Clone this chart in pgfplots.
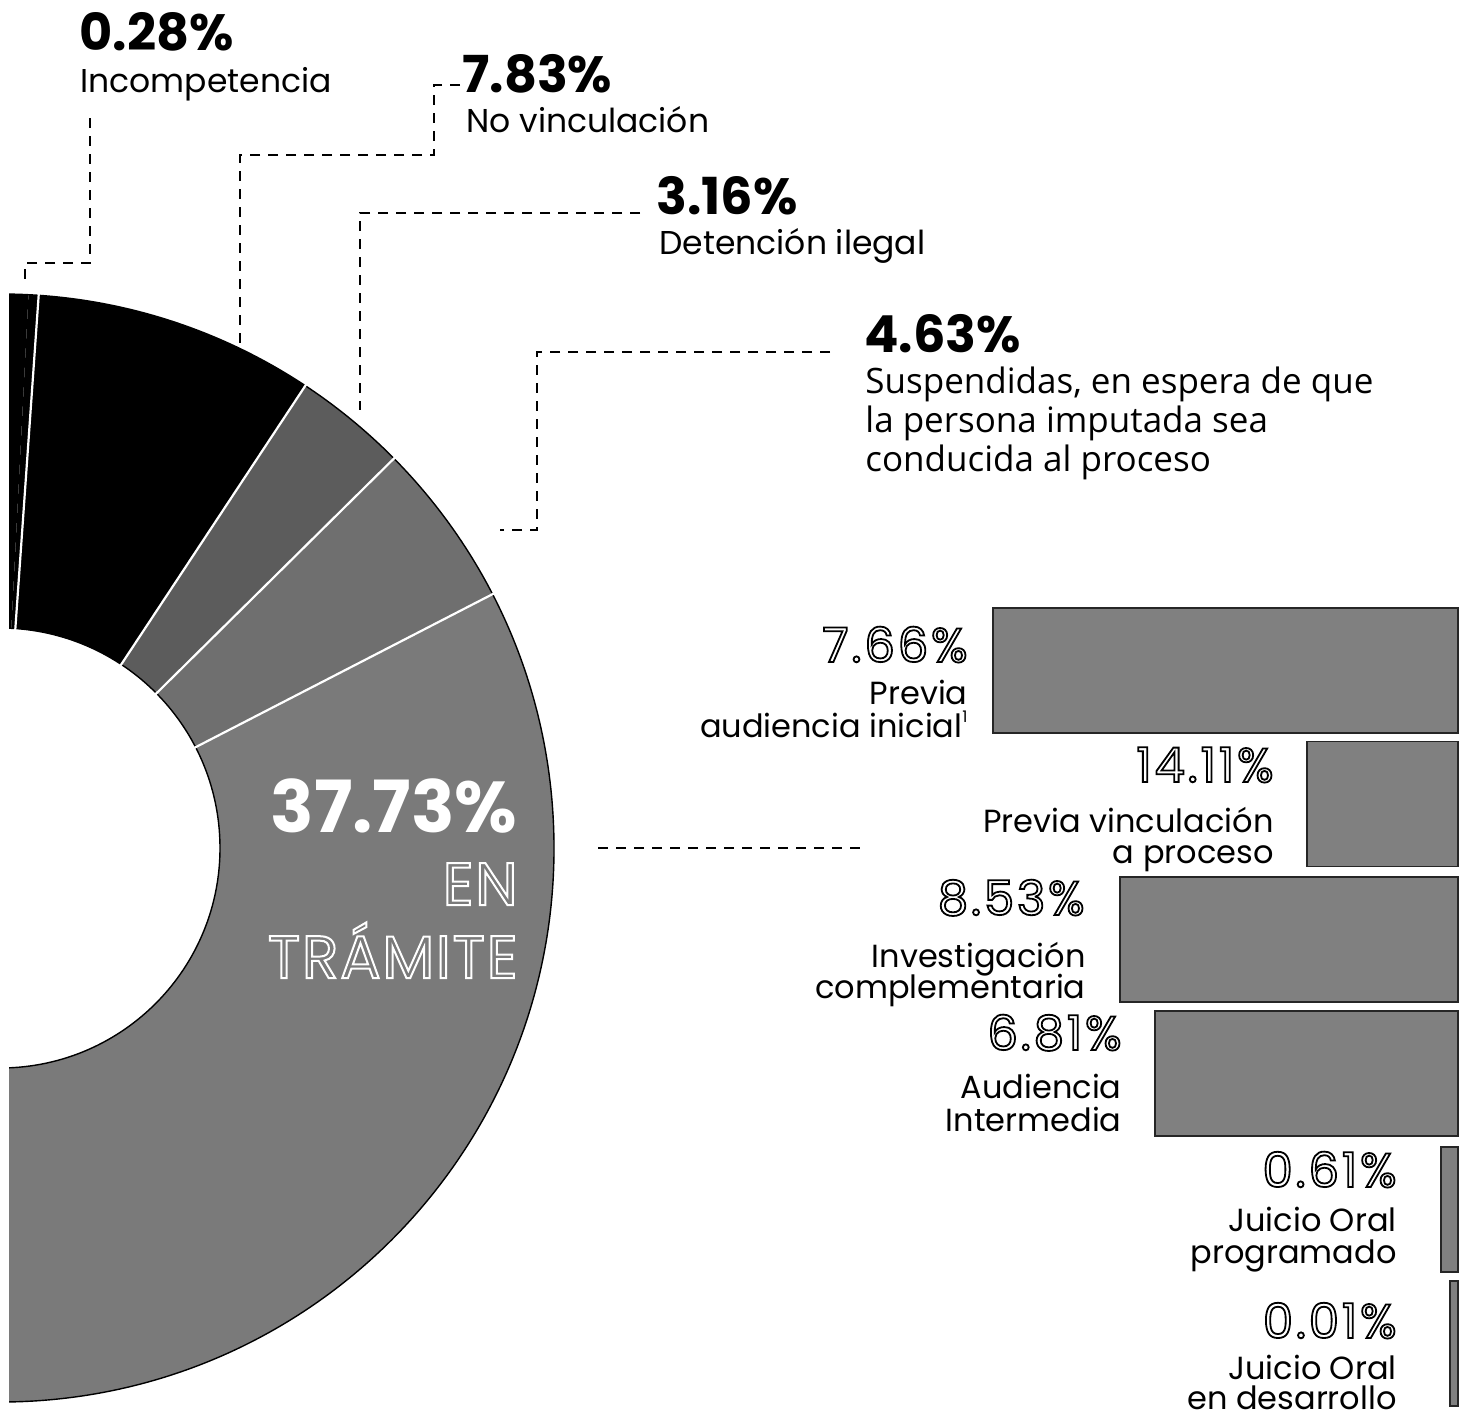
\documentclass[border=0pt]{standalone}
\usepackage{pgfplots}
\pgfplotsset{compat=1.18}
\usepackage{fontspec}
\setmainfont{Poppins}
\newfontfamily\opensans{Open Sans}
\newfontfamily\popnum[Numbers=Monospaced,LetterSpace=6]{Poppins}
\newfontfamily\popwide[LetterSpace=3]{Poppins}
\newcommand\hollow[2]{\special{pdf:literal direct #1 w 1 Tr}#2\special{pdf:literal direct 0 Tr}}
\definecolor{segA}{HTML}{5C5C5C}
\definecolor{segB}{HTML}{6F6F6F}
\definecolor{segC}{HTML}{7A7A7A}
\definecolor{barfill}{HTML}{808080}
% donut data (percent shares)
\def\vA{0.28}\def\vB{7.83}\def\vC{3.16}\def\vD{4.63}\def\vE{37.73}
\def\degper{3.76}
\pgfmathsetmacro\tA{87.05}
\pgfmathsetmacro\tB{\tA-\vA*\degper}
\pgfmathsetmacro\tC{\tB-\vB*\degper}
\pgfmathsetmacro\tD{\tC-\vC*\degper}
\pgfmathsetmacro\tE{\tD-\vD*\degper}
\pgfmathsetmacro\tF{\tE-\vE*\degper}
\newcommand\seg[3]{%
  \fill[#3] ([shift={(#1:277pt)}]axis cs:0,848) arc[start angle=#1,end angle=#2,radius=277pt]
     -- ([shift={(#2:110pt)}]axis cs:0,848) arc[start angle=#2,end angle=#1,radius=110pt] -- cycle;}
\newcommand\sep[1]{\draw[white,line width=1.1pt] ([shift={(#1:109pt)}]axis cs:0,848) -- ([shift={(#1:278pt)}]axis cs:0,848);}
\pgfplotsset{pix/.style={at={(0,0)},anchor=south west,width=730pt,height=710.5pt,scale only axis,hide axis,clip=false,xmin=0,xmax=1460,ymin=0,ymax=1421,y dir=reverse}}
\tikzset{
  leader/.style={black,line width=1pt,dash pattern=on 5pt off 4pt},
  pct/.style={font=\fontsize{25.5}{29}\selectfont\bfseries,anchor=base west,inner sep=0pt},
  lbl/.style={font=\fontsize{16.5}{20}\selectfont,anchor=base west,inner sep=0pt},
  bpct/.style={font=\popnum\fontsize{24}{28}\selectfont,anchor=base east,inner sep=0pt,text=black},
  blbl/.style={font=\fontsize{16}{19}\selectfont,anchor=base east,inner sep=0pt},
}
\begin{document}
\begin{tikzpicture}
\begin{axis}[pix]
\begin{scope}
\clip (axis cs:9,0) rectangle (axis cs:1460,1421);
\seg{92}{\tA}{black}
\seg{\tA}{\tB}{black}
\seg{\tB}{\tC}{black}
\seg{\tC}{\tD}{segA}
\seg{\tD}{\tE}{segB}
\seg{\tE}{\tF}{segC}
\draw[black,line width=0.7pt] ([shift={(92:277pt)}]axis cs:0,848) arc[start angle=92,end angle=\tF,radius=277pt];
\draw[black,line width=0.7pt] ([shift={(92:110pt)}]axis cs:0,848) arc[start angle=92,end angle=\tF,radius=110pt];
\sep{\tB}\sep{\tC}\sep{\tD}\sep{\tE}
\end{scope}
% leader lines
\draw[leader] (axis cs:460,85) -- (axis cs:434,85) -- (axis cs:434,155) -- (axis cs:240,155) -- (axis cs:240,348);
\draw[leader] (axis cs:90,118) -- (axis cs:90,263) -- (axis cs:25,263) -- (axis cs:25,286);
\draw[leader] (axis cs:640,213) -- (axis cs:360,213) -- (axis cs:360,410);
\draw[leader] (axis cs:830,352) -- (axis cs:537,352) -- (axis cs:537,530) -- (axis cs:500,530);
\draw[leader] (axis cs:598,848) -- (axis cs:860,848);
% top labels
\node[pct] at (axis cs:79,50) {0.28\%};
\node[lbl] at (axis cs:80,92) {Incompetencia};
\node[pct] at (axis cs:462,92) {7.83\%};
\node[lbl] at (axis cs:466,132) {No vinculación};
\node[pct] at (axis cs:656,214) {3.16\%};
\node[lbl] at (axis cs:659,254) {Detención ilegal};
\node[pct] at (axis cs:864,352) {4.63\%};
\node[lbl,font=\opensans\fontsize{17.5}{20}\selectfont] at (axis cs:865,393) {Suspendidas, en espera de que};
\node[lbl,font=\opensans\fontsize{17.5}{20}\selectfont] at (axis cs:865,432) {la persona imputada sea};
\node[lbl,font=\opensans\fontsize{17.5}{20}\selectfont] at (axis cs:865,471) {conducida al proceso};
% donut centre labels
\node[anchor=base east,inner sep=0pt,text=white,font=\fontsize{36}{42}\selectfont\bfseries] at (axis cs:518,832) {37.73\%};
\node[anchor=base east,inner sep=0pt,text=white,font=\popwide\fontsize{30}{34}\selectfont] at (axis cs:518,905) {\hollow{1.0}{EN}};
\node[anchor=base east,inner sep=0pt,text=white,font=\popwide\fontsize{30}{34}\selectfont] at (axis cs:518,978) {\hollow{1.0}{TRÁMITE}};
% bar labels
\node[bpct] at (axis cs:968,662) {\hollow{0.9}{7.66\%}};
\node[blbl] at (axis cs:968,704) {Previa};
\node[blbl] at (axis cs:968,737) {audiencia inicial\raisebox{0.45em}{\fontsize{8}{8}\selectfont 1}};
\node[bpct] at (axis cs:1274,782) {\hollow{0.9}{14.11\%}};
\node[blbl] at (axis cs:1274,832) {Previa vinculación};
\node[blbl] at (axis cs:1274,863) {a proceso};
\node[bpct] at (axis cs:1085,915) {\hollow{0.9}{8.53\%}};
\node[blbl] at (axis cs:1086,967) {Investigación};
\node[blbl] at (axis cs:1086,998) {complementaria};
\node[bpct] at (axis cs:1122,1050) {\hollow{0.9}{6.81\%}};
\node[blbl] at (axis cs:1122,1098) {Audiencia};
\node[blbl] at (axis cs:1122,1131) {Intermedia};
\node[bpct] at (axis cs:1397,1187) {\hollow{0.9}{0.61\%}};
\node[blbl] at (axis cs:1397,1231) {Juicio Oral};
\node[blbl] at (axis cs:1397,1263) {programado};
\node[bpct] at (axis cs:1397,1338) {\hollow{0.9}{0.01\%}};
\node[blbl] at (axis cs:1397,1379) {Juicio Oral};
\node[blbl] at (axis cs:1397,1409) {en desarrollo};
\end{axis}
\begin{axis}[at={(0,0)},anchor=south west,width=730pt,height=710.5pt,scale only axis,hide axis,clip=false,
  xmin=-2,xmax=1458,x dir=reverse,ymin=0,ymax=1421,y dir=reverse,xbar,bar width=62.5pt]
\addplot[fill=barfill,draw=black!85,line width=0.8pt] coordinates {(465,670.5) (151,804) (338,939.5) (303,1073.5) (17,1209.5) (8,1343.5)};
\end{axis}
\useasboundingbox (0,0) rectangle (730pt,710.5pt);
\end{tikzpicture}
\end{document}
